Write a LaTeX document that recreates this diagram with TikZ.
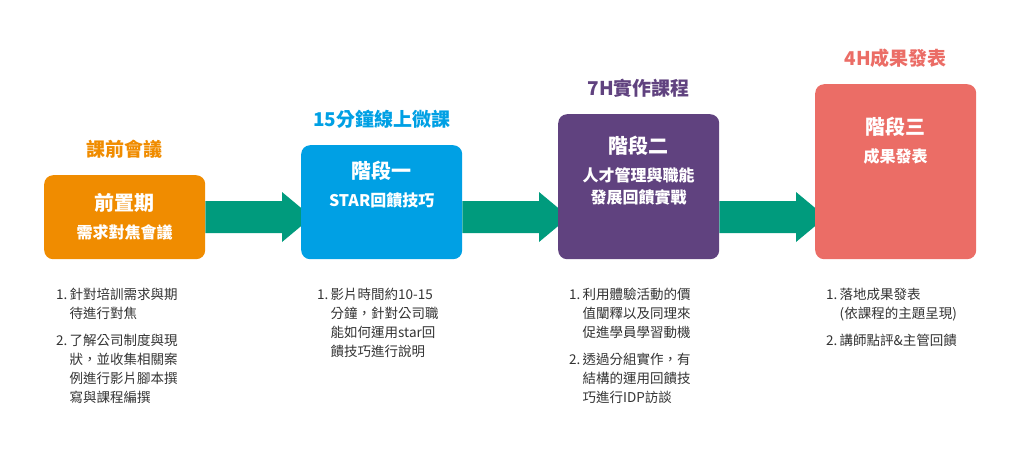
\documentclass[tikz,border=0pt]{standalone}
\usepackage{fontspec}
\setmainfont{Noto Sans CJK TC}
\usetikzlibrary{positioning}
\usetikzlibrary{backgrounds}
\definecolor{prepOrange}{HTML}{F08C00}
\definecolor{stageBlue}{HTML}{00A0E4}
\definecolor{stagePurple}{HTML}{60427F}
\definecolor{stageRed}{HTML}{EB6D66}
\definecolor{flowGreen}{HTML}{009B7D}
\definecolor{listGray}{HTML}{333333}

\newcommand{\subfont}{\bfseries\fontsize{16}{20}\selectfont}
\newcommand{\flowarrow}[2]{%
  \fill[flow] (#1.east |- 0,201) -- ([xshift=-19pt]#2.west |- 0,201)
    -- ([xshift=-19pt]#2.west |- 0,192) -- ([xshift=11pt]#2.west |- 0,217)
    -- ([xshift=-19pt]#2.west |- 0,242) -- ([xshift=-19pt]#2.west |- 0,233)
    -- (#1.east |- 0,233) -- cycle;}

\begin{document}
\begin{tikzpicture}
    [x=1pt, y=-1pt,
    stagebox/.style={rounded corners=9pt, minimum width=161pt, text=white,
      align=center, anchor=north west, inner sep=0pt,
      font=\bfseries\fontsize{20}{24}\selectfont},
    heading/.style={font=\bfseries\fontsize{19}{22}\selectfont},
    steplist/.style={anchor=north west, text=listGray, inner sep=0pt,
      font=\fontsize{13.5}{19}\selectfont},
    flow/.style={fill=flowGreen}]

    \useasboundingbox (0,0) rectangle (1024,472);

    % stage boxes
    \node[stagebox, fill=prepOrange, minimum height=84pt] (prep) at (44,175)
      {前置期\\[4pt]{\subfont 需求對焦會議}};
    \node[stagebox, fill=stageBlue, minimum height=114pt] (one) at (301,145)
      {階段一\\[4pt]{\subfont STAR回饋技巧}\\[12pt]};
    \node[stagebox, fill=stagePurple, minimum height=145pt] (two) at (558,114)
      {階段二\\[4pt]{\subfont 人才管理與職能}\\[-2pt]{\subfont 發展回饋實戰}\\[10pt]};
    \node[stagebox, fill=stageRed, minimum height=175pt] (three) at (815,84)
      {階段三\\[4pt]{\subfont 成果發表}\\[40pt]};

    % headings
    \node[heading, text=prepOrange, above=13pt of prep] (prephead) {課前會議};
    \node[heading, text=stageBlue, above=13pt of one] (onehead) {15分鐘線上微課};
    \node[heading, text=stagePurple, above=13pt of two] (twohead) {7H實作課程};
    \node[heading, text=stageRed, above=13pt of three] (threehead) {4H成果發表};

    % connectors
    \begin{scope}[on background layer]
      \flowarrow{prep}{one}
      \flowarrow{one}{two}
      \flowarrow{two}{three}
    \end{scope}

    % lists
    \node[steplist] (preplist) at (56,286) {\begin{tabular}{@{}r@{\,}l}
      1. & 針對培訓需求與期\\ & 待進行對焦\\[8pt]
      2. & 了解公司制度與現\\ & 狀，並收集相關案\\ & 例進行影片腳本撰\\ & 寫與課程編撰
      \end{tabular}};
    \node[steplist] (onelist) at (317,286) {\begin{tabular}{@{}r@{\,}l}
      1. & 影片時間約10-15\\ & 分鐘，針對公司職\\ & 能如何運用star回\\ & 饋技巧進行說明
      \end{tabular}};
    \node[steplist] (twolist) at (569,286) {\begin{tabular}{@{}r@{\,}l}
      1. & 利用體驗活動的價\\ & 值闡釋以及同理來\\ & 促進學員學習動機\\[8pt]
      2. & 透過分組實作，有\\ & 結構的運用回饋技\\ & 巧進行IDP訪談
      \end{tabular}};
    \node[steplist] (threelist) at (826,286) {\begin{tabular}{@{}r@{\,}l}
      1. & 落地成果發表\\ & (依課程的主題呈現)\\[8pt]
      2. & 講師點評\&主管回饋
      \end{tabular}};
\end{tikzpicture}
\end{document}
